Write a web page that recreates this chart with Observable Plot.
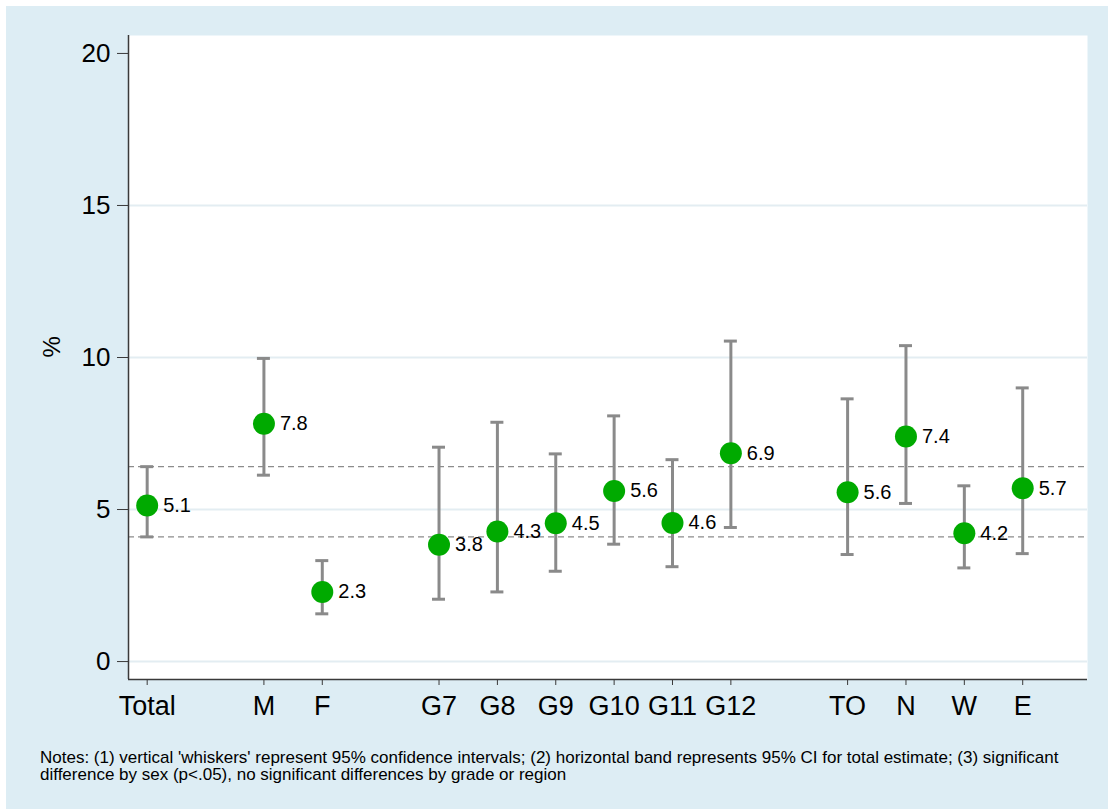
<!DOCTYPE html>
<html><head><meta charset="utf-8">
<script src="https://cdn.jsdelivr.net/npm/d3@7"></script>
<script src="https://cdn.jsdelivr.net/npm/@observablehq/plot@0.6"></script>
<style>
html,body{margin:0;padding:0;background:#fff;}
#wrap{position:relative;width:1108px;height:809px;overflow:hidden;}
#bg{position:absolute;left:6px;top:6px;width:1102px;height:803px;background:#ddedf4;}
#chart{position:absolute;left:0;top:0;}
#chart svg{background:transparent !important;}
#notes{position:absolute;left:40px;top:750px;font-family:"Liberation Sans",Arial,sans-serif;font-size:17px;line-height:16.5px;color:#000;width:1040px;}
</style></head>
<body><div id="wrap"><div id="bg"></div><div id="chart"></div><div id="notes"></div></div>
<script>
const categories = ["Total","M","F","G7","G8","G9","G10","G11","G12","TO","N","W","E"];
const positions  = [1, 3, 4, 6, 7, 8, 9, 10, 11, 13, 14, 15, 16];
const estimates  = [5.13, 7.82, 2.29, 3.84, 4.28, 4.55, 5.61, 4.56, 6.85, 5.57, 7.40, 4.22, 5.70];
const lowerCI    = [4.10, 6.13, 1.57, 2.05, 2.29, 2.97, 3.86, 3.12, 4.41, 3.52, 5.20, 3.08, 3.55];
const upperCI    = [6.41, 9.97, 3.32, 7.05, 7.87, 6.83, 8.08, 6.64, 10.54, 8.64, 10.39, 5.78, 9.00];
const valueLabels = ["5.1","7.8","2.3","3.8","4.3","4.5","5.6","4.6","6.9","5.6","7.4","4.2","5.7"];
const totalBand  = [4.10, 6.41];
const yTicks     = [0, 5, 10, 15, 20];
const gridValues = [0, 5, 10, 15];
const yDomain    = [-0.59, 20.59];
const xDomain    = [0.68, 17.11];
const notesText  = "Notes: (1) vertical 'whiskers' represent 95% confidence intervals; (2) horizontal band represents 95% CI for total estimate; (3) significant difference by sex (p<.05), no significant differences by grade or region";

const data = categories.map((c, i) => ({
  cat: c, x: positions[i], v: estimates[i], lo: lowerCI[i], hi: upperCI[i], label: valueLabels[i]
}));

const font = "'Liberation Sans', Arial, sans-serif";
const ciColor = "#8a8a8a";
const axisColor = "#3a3a3a";

const chart = Plot.plot({
  width: 1108,
  height: 720,
  marginLeft: 128,
  marginRight: 21,
  marginTop: 35,
  marginBottom: 41,
  style: {fontFamily: font, color: "#000", background: "transparent", overflow: "visible"},
  x: {type: "linear", domain: xDomain},
  y: {domain: yDomain},
  marks: [
    Plot.frame({fill: "white", stroke: null}),
    Plot.ruleY(gridValues, {stroke: "#e3edf2", strokeWidth: 2}),
    Plot.ruleY(totalBand, {stroke: "#8c8c8c", strokeWidth: 1.3, strokeDasharray: "6,4"}),
    Plot.axisY({ticks: yTicks, tickSize: 11, tickPadding: 7, fontSize: 26, stroke: axisColor, color: "#000", label: null, tickFormat: d => String(d)}),
    Plot.axisX({ticks: positions, tickSize: 6, tickPadding: 10, fontSize: 27, stroke: axisColor, color: "#000", label: null, tickFormat: (d) => categories[positions.indexOf(d)]}),
    Plot.ruleX([xDomain[0]], {stroke: axisColor, strokeWidth: 1.5}),
    Plot.ruleY([yDomain[0]], {stroke: axisColor, strokeWidth: 1.5}),
    Plot.text(["%"], {frameAnchor: "left", dx: -76, rotate: -90, fontSize: 24, fill: "#000"}),
    Plot.ruleX(data, {x: "x", y1: "lo", y2: "hi", stroke: ciColor, strokeWidth: 3}),
    Plot.ruleY(data, {x1: "x", x2: "x", y: "lo", insetLeft: -6.5, insetRight: -6.5, stroke: ciColor, strokeWidth: 3}),
    Plot.ruleY(data, {x1: "x", x2: "x", y: "hi", insetLeft: -6.5, insetRight: -6.5, stroke: ciColor, strokeWidth: 3}),
    Plot.dot(data, {x: "x", y: "v", r: 11, fill: "#00aa00", stroke: "none"}),
    Plot.text(data, {x: "x", y: "v", text: "label", dx: 16, textAnchor: "start", fontSize: 20, fill: "#000"})
  ]
});
document.getElementById("chart").appendChild(chart);
document.getElementById("notes").textContent = notesText;
</script>
</body></html>
